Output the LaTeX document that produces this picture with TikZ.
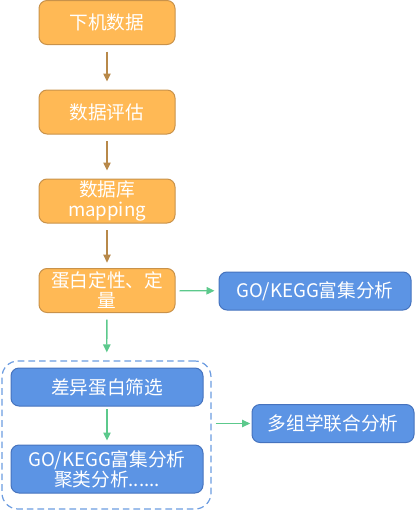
\documentclass[tikz,border=0pt]{standalone}
\usepackage{fontspec}
\setmainfont{Noto Sans CJK SC}
\usetikzlibrary{arrows.meta,positioning}
\definecolor{StepClr}{RGB}{255,185,85}
\definecolor{StepLine}{RGB}{201,146,74}
\definecolor{StepArr}{RGB}{184,137,74}
\definecolor{AnaClr}{RGB}{92,148,228}
\definecolor{AnaLine}{RGB}{70,115,190}
\definecolor{AnaArr}{RGB}{92,201,140}
\definecolor{GrpLine}{RGB}{108,156,224}

\begin{document}
\begin{tikzpicture}[x=0.75pt,y=-0.75pt,
  stepbox/.style={draw=StepLine,fill=StepClr,line width=0.75pt,rounded corners=6pt,
    minimum width=102pt,minimum height=33pt,text=white,align=center,
    font=\fontsize{14}{15}\selectfont,inner sep=1pt},
  anabox/.style={draw=AnaLine,fill=AnaClr,line width=0.75pt,rounded corners=6pt,
    minimum width=144pt,minimum height=28.5pt,text=white,align=center,
    font=\fontsize{14}{15}\selectfont,inner sep=1pt},
  grpbox/.style={draw=GrpLine,dashed,dash pattern=on 5pt off 3pt,line width=0.9pt,
    rounded corners=12pt,minimum width=156.75pt,minimum height=111pt},
  brownarr/.style={draw=StepArr,line width=1pt,-{Triangle[length=6pt,width=5.5pt]}},
  greenarr/.style={draw=AnaArr,line width=1pt,-{Triangle[length=6pt,width=5.5pt]}}]
\useasboundingbox (0,0) rectangle (416,511);

% 前期步骤
\node[stepbox] (dl) at (107,22.5) {下机数据};
\node[stepbox] (qc) at (107,112) {数据评估};
\node[stepbox] (db) at (107,201) {数据库\\mapping};
\node[stepbox] (qt) at (107,290.5) {蛋白定性、定\\量};

% 分析部分
\node[anabox,minimum width=144pt] (go) at (315,291) {GO/KEGG富集分析};
\node[grpbox] (grp) at (106.5,435) {};
\node[anabox] (df) at (107,387) {差异蛋白筛选};
\node[anabox,minimum height=36pt] (en) at (107,469) {GO/KEGG富集分析\\聚类分析......};
\node[anabox,minimum width=121.5pt] (mo) at (333,423.5) {多组学联合分析};

% 箭头
\draw[brownarr,shorten <=5pt,shorten >=6pt] (dl) -- (qc);
\draw[brownarr,shorten <=5pt,shorten >=6pt] (qc) -- (db);
\draw[brownarr,shorten <=5pt,shorten >=4pt] (db) -- (qt);
\draw[greenarr,shorten <=3pt,shorten >=3pt] (qt) -- (go);
\draw[greenarr,shorten <=5pt,shorten >=6pt] (qt) -- (grp);
\draw[greenarr,shorten <=2pt,shorten >=3pt] (df) -- (en);
\draw[greenarr,shorten <=3pt,shorten >=1pt] (grp.east |- mo) -- (mo);

\end{tikzpicture}
\end{document}
